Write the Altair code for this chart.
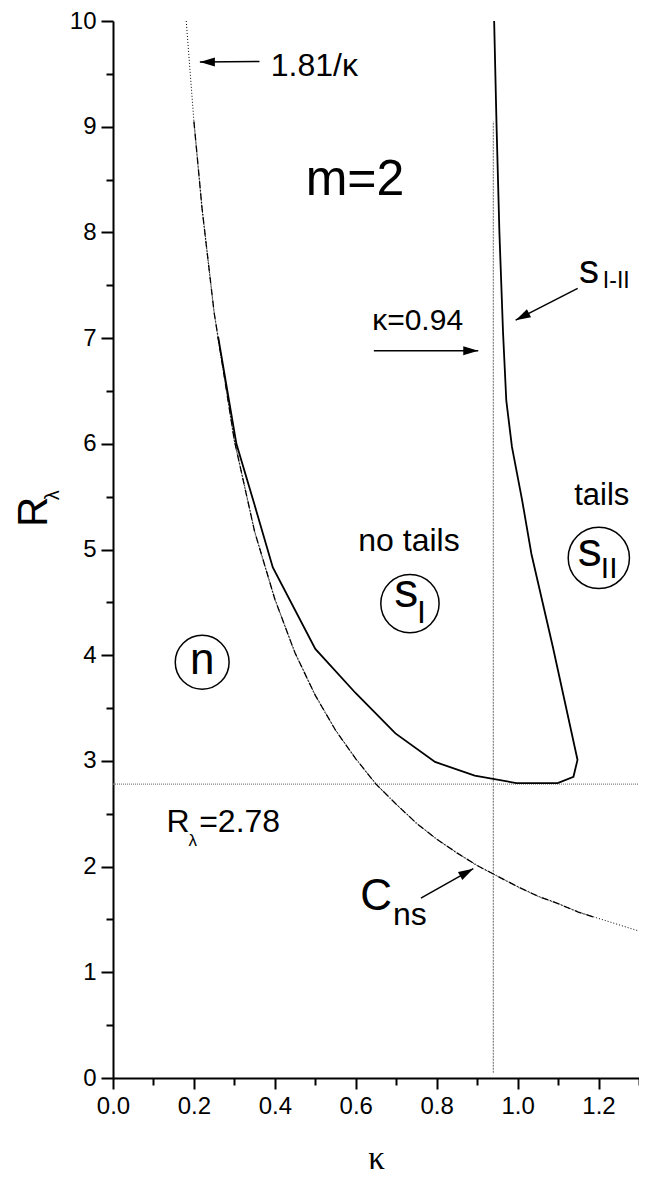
import altair as alt
import pandas as pd

# ---------------- data ----------------
# dotted curve 1.81/kappa
k_recip = [0.181, 0.2, 0.22, 0.25, 0.3, 0.35, 0.4, 0.45, 0.5, 0.55, 0.6, 0.65, 0.7,
           0.75, 0.8, 0.85, 0.9, 0.95, 1.0, 1.05, 1.1, 1.15, 1.2, 1.25, 1.3]
r_recip = [10.0, 9.05, 8.23, 7.24, 6.03, 5.17, 4.53, 4.02, 3.62, 3.29, 3.02, 2.78, 2.59,
           2.41, 2.26, 2.13, 2.01, 1.91, 1.81, 1.72, 1.65, 1.57, 1.51, 1.45, 1.39]
# dash-dot curve C_ns
k_cns = [0.2, 0.22, 0.25, 0.3, 0.35, 0.4, 0.45, 0.5, 0.55, 0.6, 0.65, 0.7, 0.75,
         0.8, 0.85, 0.9, 0.95, 1.0, 1.05, 1.1, 1.15, 1.19]
r_cns = [9.05, 8.23, 7.24, 6.03, 5.17, 4.53, 4.02, 3.62, 3.29, 3.02, 2.78, 2.59, 2.41,
         2.26, 2.13, 2.01, 1.91, 1.81, 1.72, 1.65, 1.57, 1.52]
# solid boundary curve (s_I region / s_I-II)
k_sep = [0.26, 0.305, 0.35, 0.395, 0.5, 0.6, 0.698, 0.796, 0.894, 0.997, 1.099, 1.138,
         1.148, 1.087, 1.034, 1.011, 0.986, 0.972, 0.964, 0.955, 0.948, 0.942]
r_sep = [7.01, 6.0, 5.42, 4.83, 4.06, 3.64, 3.26, 2.99, 2.86, 2.79, 2.79, 2.85,
         3.01, 4.08, 4.96, 5.47, 5.97, 6.41, 7.05, 8.0, 9.0, 10.0]
# reference lines
r_crit = 2.78
k_crit = 0.94
k_crit_top = 9.05

# axis ticks
x_major = [0.0, 0.2, 0.4, 0.6, 0.8, 1.0, 1.2]
x_minor = [0.1, 0.3, 0.5, 0.7, 0.9, 1.1, 1.3]
y_major = [0, 1, 2, 3, 4, 5, 6, 7, 8, 9, 10]
y_minor = [0.5, 1.5, 2.5, 3.5, 4.5, 5.5, 6.5, 7.5, 8.5, 9.5]
x_title = "κ"

# arrows: start (k0, r0) -> tip (k1, r1), heading angle of the tip
arr_k0 = [0.362, 0.6447, 1.1484, 0.761]
arr_r0 = [9.617, 6.881, 7.470, 1.702]
arr_k1 = [0.2147, 0.9027, 0.9951, 0.8904]
arr_r1 = [9.612, 6.881, 7.170, 1.980]
arr_ang = [270, 90, 243, 61]

# circles around region labels
circ_k = [0.2204, 0.7339, 1.2007]
circ_r = [3.933, 4.488, 4.920]
circ_size = [2900, 3400, 3750]

# text annotations (text, kappa, R, font size)
left_t = ["1.81/κ", "m=2", "κ=0.94", "s", "I-II", "I", "II", "R", "λ", "=2.78", "C", "ns"]
left_k = [0.390, 0.4762, 0.6405, 1.1516, 1.2106, 0.7516, 1.2057, 0.1324, 0.1865, 0.2130, 0.611, 0.6921]
left_r = [9.48, 8.353, 7.075, 7.52, 7.47, 4.302, 4.728, 2.327, 2.199, 2.327, 1.585, 1.444]
left_s = [32, 50, 30, 40, 23, 32, 30, 32, 17, 32, 44, 32]

center_t = ["tails", "no tails", "n"]
center_k = [1.208, 0.7315, 0.2204]
center_r = [5.419, 4.983, 3.826]
center_s = [31, 32, 44]

right_t = ["s", "s"]
right_k = [0.7546, 1.2082]
right_r = [4.453, 4.842]
right_s = [48, 48]

ytitle_t = ["R", "λ"]
ytitle_k = [-0.1631, -0.1335]
ytitle_r = [5.213, 5.467]
ytitle_s = [42, 20]

# ---------------- chart ----------------
xs = alt.Scale(domain=[0, 1.3], nice=False, zero=False)
ys = alt.Scale(domain=[0, 10], nice=False, zero=False)
FONT = "Liberation Sans"


def major_x():
    return alt.Axis(values=x_major, format=".1f", orient="bottom", title=x_title, grid=False,
                    tickSize=11, tickWidth=2, tickColor="black", domainWidth=2,
                    domainColor="black", labelFont=FONT, labelFontSize=24,
                    labelColor="black", labelPadding=5, labelFlush=False, labelOverlap=False,
                    titleFont="Liberation Serif", titleFontSize=33, titleFontWeight="normal",
                    titleColor="black", titlePadding=24)


def major_y():
    return alt.Axis(values=y_major, format="d", orient="left", title=None, grid=False,
                    tickSize=12, tickWidth=2, tickColor="black", domainWidth=2,
                    domainColor="black", labelFont=FONT, labelFontSize=24,
                    labelColor="black", labelPadding=5, labelFlush=False, labelOverlap=False)


def minor_x():
    return alt.Axis(values=x_minor, orient="bottom", title=None, grid=False, labels=False,
                    tickSize=7, tickWidth=2, tickColor="black", domain=False)


def minor_y():
    return alt.Axis(values=y_minor, orient="left", title=None, grid=False, labels=False,
                    tickSize=7, tickWidth=2, tickColor="black", domain=False)


df_recip = pd.DataFrame({"k": k_recip, "r": r_recip})
df_cns = pd.DataFrame({"k": k_cns, "r": r_cns})
df_sep = pd.DataFrame({"k": k_sep, "r": r_sep, "i": list(range(len(k_sep)))})

recip = alt.Chart(df_recip).mark_line(color="black", strokeWidth=1, strokeDash=[1, 2]).encode(
    x=alt.X("k:Q", scale=xs, axis=major_x()),
    y=alt.Y("r:Q", scale=ys, axis=major_y()),
)

hline = alt.Chart(pd.DataFrame({"k0": [0.0], "k1": [1.3], "r": [r_crit]})).mark_rule(
    color="#808080", strokeWidth=1.2, strokeDash=[1, 1]).encode(
    x=alt.X("k0:Q", scale=xs, axis=minor_x()),
    x2="k1:Q",
    y=alt.Y("r:Q", scale=ys, axis=minor_y()),
)

vline = alt.Chart(pd.DataFrame({"k": [k_crit], "r0": [0.05], "r1": [k_crit_top]})).mark_rule(
    color="#808080", strokeWidth=1.2, strokeDash=[2, 1]).encode(
    x=alt.X("k:Q", scale=xs, axis=None),
    y=alt.Y("r0:Q", scale=ys, axis=None),
    y2="r1:Q",
)

cns = alt.Chart(df_cns).mark_line(color="black", strokeWidth=1.3, strokeDash=[7, 2, 1, 2]).encode(
    x=alt.X("k:Q", scale=xs, axis=None),
    y=alt.Y("r:Q", scale=ys, axis=None),
)

sep = alt.Chart(df_sep).mark_line(color="black", strokeWidth=1.8).encode(
    x=alt.X("k:Q", scale=xs, axis=None),
    y=alt.Y("r:Q", scale=ys, axis=None),
    order="i:Q",
)

df_arr = pd.DataFrame({"k0": arr_k0, "r0": arr_r0, "k1": arr_k1, "r1": arr_r1, "a": arr_ang})
shafts = alt.Chart(df_arr).mark_rule(color="black", strokeWidth=1.5).encode(
    x=alt.X("k0:Q", scale=xs, axis=None),
    y=alt.Y("r0:Q", scale=ys, axis=None),
    x2="k1:Q",
    y2="r1:Q",
)
heads = alt.Chart(df_arr).mark_point(shape="M0,0L-0.6,2L0.6,2Z", filled=True, color="black",
                                     size=225, opacity=1).encode(
    x=alt.X("k1:Q", scale=xs, axis=None),
    y=alt.Y("r1:Q", scale=ys, axis=None),
    angle=alt.Angle("a:Q", scale=None),
)

circles = alt.Chart(pd.DataFrame({"k": circ_k, "r": circ_r, "s": circ_size})).mark_point(
    shape="circle", filled=False, stroke="black", strokeWidth=1.5, opacity=1).encode(
    x=alt.X("k:Q", scale=xs, axis=None),
    y=alt.Y("r:Q", scale=ys, axis=None),
    size=alt.Size("s:Q", scale=None),
)


def text_layer(t, k, r, s, align, font=FONT, angle=0):
    df = pd.DataFrame({"t": t, "k": k, "r": r, "s": s})
    return alt.Chart(df).mark_text(align=align, baseline="alphabetic", font=font,
                                   angle=angle, color="black").encode(
        x=alt.X("k:Q", scale=xs, axis=None),
        y=alt.Y("r:Q", scale=ys, axis=None),
        text="t:N",
        size=alt.Size("s:Q", scale=None),
    )


texts = [
    text_layer(left_t, left_k, left_r, left_s, "left"),
    text_layer(center_t, center_k, center_r, center_s, "center"),
    text_layer(right_t, right_k, right_r, right_s, "right"),
    text_layer(ytitle_t, ytitle_k, ytitle_r, ytitle_s, "left", angle=270),
]

chart = alt.layer(recip, hline, vline, cns, sep, shafts, heads, circles, *texts).resolve_axis(
    x="independent", y="independent"
).properties(
    width=526, height=1057,
    autosize=alt.AutoSizeParams(type="none"),
    padding={"left": 105, "top": 13, "right": 0, "bottom": 98},
    background="white",
).configure_view(stroke=None)

chart.save("out.html", embed_options={"renderer": "svg", "actions": False})
